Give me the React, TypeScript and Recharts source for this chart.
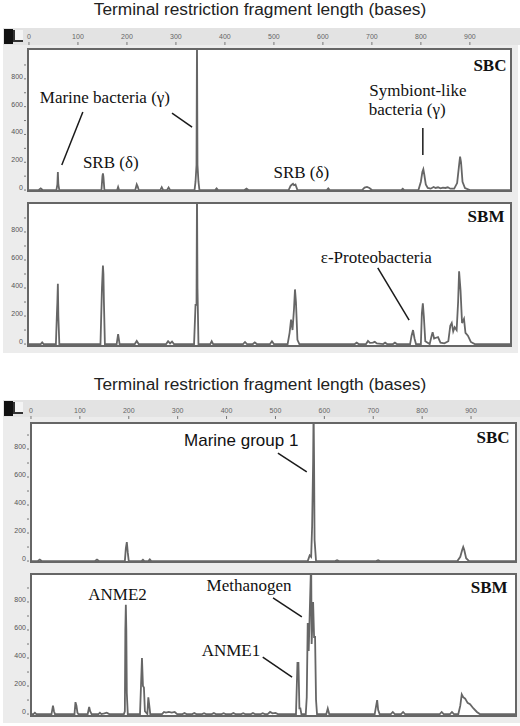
import React from 'react';
import { LineChart, Line, XAxis, YAxis, ReferenceLine, ReferenceDot } from 'recharts';

// ---------- tick labels ----------
const RULER_TICKS = [0, 100, 200, 300, 400, 500, 600, 700, 800, 900];
const Y_TICKS = [0, 100, 200, 300, 400, 500, 600, 700, 800, 900];
const Y_LABELS = [0, 200, 400, 600, 800];
const TITLE = 'Terminal restriction fragment length (bases)';

// ---------- traces: [fragment length (bases), intensity] ----------
const bacteriaSBC: [number, number][] = [
  [0, 0], [20, 0], [24, 12], [28, 0], [56, 0], [58, 40], [59, 130], [60, 40], [62, 0],
  [148, 0], [150, 100], [151, 120], [152, 95], [154, 0], [180, 0], [182, 22], [184, 0],
  [217, 0], [220, 40], [222, 25], [224, 0], [268, 0], [271, 20], [274, 0], [282, 0], [285, 18], [288, 0],
  [338, 0], [340, 60], [342, 180], [343, 1100], [344, 180], [346, 60], [348, 0],
  [380, 0], [383, 12], [386, 0], [440, 0], [444, 10], [448, 0],
  [530, 0], [534, 30], [537, 40], [539, 45], [541, 35], [544, 40], [548, 0],
  [608, 0], [611, 12], [614, 0], [680, 0], [685, 18], [690, 22], [695, 15], [700, 0],
  [760, 0], [763, 10], [766, 0],
  [795, 0], [800, 60], [803, 130], [805, 150], [807, 110], [810, 40], [814, 15],
  [820, 10], [826, 22], [830, 15], [835, 20], [840, 12], [845, 18], [850, 15], [855, 20], [860, 10],
  [868, 10], [874, 50], [878, 180], [880, 240], [882, 200], [885, 60], [890, 15], [900, 0], [986, 0],
];

const bacteriaSBM: [number, number][] = [
  [0, 0], [24, 0], [27, 12], [30, 0], [55, 0], [57, 210], [58, 300], [59, 430], [60, 200], [62, 0],
  [146, 0], [149, 400], [151, 560], [152, 500], [153, 300], [155, 0], [179, 0], [182, 70], [185, 0],
  [216, 0], [220, 22], [224, 0], [280, 0], [284, 20], [288, 5], [292, 18], [296, 0],
  [337, 0], [340, 280], [342, 280], [343, 1100], [344, 400], [346, 0], [370, 0], [373, 20], [376, 0],
  [437, 0], [441, 15], [445, 0], [457, 0], [461, 12], [465, 0], [492, 0], [496, 20], [500, 0],
  [528, 0], [532, 80], [535, 175], [538, 100], [541, 250], [543, 390], [545, 300], [548, 30], [552, 0],
  [665, 0], [669, 10], [673, 0], [688, 0], [692, 22], [696, 8], [702, 10], [706, 16], [710, 5],
  [723, 0], [727, 10], [731, 0], [743, 0], [747, 10], [751, 0],
  [778, 0], [781, 60], [784, 100], [787, 40], [790, 0], [800, 0], [802, 220], [804, 290], [806, 200], [809, 20],
  [818, 0], [822, 60], [824, 85], [827, 40], [831, 45], [835, 50], [840, 10], [848, 5],
  [856, 20], [860, 130], [863, 150], [866, 90], [869, 120], [873, 100], [876, 300], [878, 520], [881, 380],
  [884, 150], [888, 180], [891, 80], [896, 60], [902, 15], [910, 0], [986, 0],
];

const archaeaSBC: [number, number][] = [
  [0, 0], [14, 0], [18, 10], [22, 0], [131, 0], [135, 10], [139, 0],
  [192, 0], [194, 90], [196, 135], [197, 100], [198, 60], [200, 0],
  [226, 0], [229, 10], [232, 0], [240, 0], [243, 12], [246, 0],
  [566, 0], [570, 40], [573, 30], [575, 250], [577, 700], [578, 1100], [579, 700], [580, 150], [583, 0],
  [622, 0], [626, 6], [630, 0], [706, 0], [710, 6], [714, 0],
  [872, 0], [878, 30], [882, 80], [884, 100], [886, 80], [890, 20], [896, 0], [994, 0],
];

const archaeaSBM: [number, number][] = [
  [0, 0], [5, 0], [8, 10], [11, 0], [42, 0], [45, 60], [47, 20], [49, 0],
  [89, 0], [91, 85], [93, 60], [95, 10], [97, 0], [116, 0], [119, 50], [121, 20], [124, 0],
  [138, 0], [141, 10], [144, 0], [150, 5], [155, 10], [160, 0],
  [190, 0], [192, 20], [193, 600], [194, 780], [195, 600], [196, 150], [198, 0],
  [223, 0], [225, 200], [227, 400], [229, 200], [231, 190], [233, 20], [238, 0], [240, 120], [242, 60], [244, 0],
  [268, 0], [272, 15], [276, 10], [282, 15], [288, 10], [294, 15], [299, 0],
  [310, 0], [314, 8], [318, 0], [330, 0], [334, 8], [338, 0], [350, 0], [354, 6], [358, 0],
  [370, 0], [374, 8], [378, 0], [390, 0], [394, 6], [398, 0], [410, 0], [414, 8], [418, 0],
  [430, 0], [434, 6], [438, 0], [450, 0], [454, 8], [458, 0], [470, 0], [474, 6], [478, 0],
  [484, 0], [489, 15], [494, 5], [500, 8], [505, 0],
  [542, 0], [545, 365], [547, 365], [549, 40], [551, 40], [553, 0],
  [562, 0], [564, 120], [566, 650], [568, 450], [573, 1100], [574, 500], [577, 800], [579, 550], [581, 550], [583, 100], [585, 0],
  [604, 0], [607, 40], [610, 0], [703, 0], [706, 60], [708, 100], [710, 30], [713, 0],
  [736, 0], [740, 15], [744, 0], [757, 0], [761, 15], [765, 0], [836, 0], [840, 15], [844, 0], [857, 0], [861, 15], [865, 0],
  [874, 0], [878, 60], [881, 140], [884, 120], [888, 110], [893, 80], [898, 70], [905, 40], [912, 15], [918, 0], [994, 0],
];

// ---------- annotations (data coordinates) ----------
type Anno = { x: number; y: number; text: string; size: number; bold?: boolean; sans?: boolean };
type Seg = [number, number, number, number];

const annoBacSBC: Anno[] = [
  { x: 155, y: 669, text: 'Marine bacteria (γ)', size: 17 },
  { x: 167, y: 201, text: 'SRB (δ)', size: 17 },
  { x: 941, y: 899, text: 'SBC', size: 17, bold: true },
  { x: 794, y: 719, text: 'Symbiont-like', size: 17 },
  { x: 772, y: 576, text: 'bacteria (γ)', size: 17 },
  { x: 556, y: 129, text: 'SRB (δ)', size: 17 },
];
const segBacSBC: Seg[] = [
  [110, 561, 67, 180],
  [292, 554, 333, 453],
  [804, 446, 804, 252],
];
const annoBacSBM: Anno[] = [
  { x: 933, y: 907, text: 'SBM', size: 17, bold: true },
  { x: 709, y: 621, text: 'ε-Proteobacteria', size: 17 },
];
const segBacSBM: Seg[] = [[712, 543, 776, 171]];

const annoArcSBC: Anno[] = [
  { x: 430, y: 864, text: 'Marine group 1', size: 17, sans: true },
  { x: 945, y: 879, text: 'SBC', size: 17, bold: true },
];
const segArcSBC: Seg[] = [[505, 771, 564, 636]];

const annoArcSBM: Anno[] = [
  { x: 177, y: 850, text: 'ANME2', size: 17 },
  { x: 446, y: 921, text: 'Methanogen', size: 17 },
  { x: 409, y: 457, text: 'ANME1', size: 17 },
  { x: 937, y: 900, text: 'SBM', size: 17, bold: true },
];
const segArcSBM: Seg[] = [
  [495, 829, 554, 693],
  [474, 407, 534, 264],
];

// ---------- styling helpers ----------
const SERIF = "'Liberation Serif', 'Times New Roman', serif";
const SANS = "'Liberation Sans', Arial, sans-serif";

const RulerTick = (props: any) => {
  const { x, y, payload } = props;
  return (
    <g>
      <text x={x} y={y - 9} textAnchor="middle" fontSize={7} fill="#666" fontFamily={SANS}>
        {payload.value}
      </text>
      <line x1={x} x2={x} y1={y - 6} y2={y - 3} stroke="#777" strokeWidth={1} />
    </g>
  );
};

const YTick = (props: any) => {
  const { x, y, payload } = props;
  const show = Y_LABELS.includes(payload.value);
  return (
    <g>
      {show && (
        <text x={x - 4} y={y} textAnchor="end" fontSize={7} fill="#555" fontFamily={SANS}>
          {payload.value}
        </text>
      )}
      <line x1={x - 3} x2={x - 1} y1={y} y2={y} stroke="#777" strokeWidth={1} />
    </g>
  );
};

function textShape(a: Anno) {
  return (p: any) => (
    <text
      x={p.cx}
      y={p.cy}
      textAnchor="middle"
      dominantBaseline="central"
      fontSize={a.size}
      fontWeight={a.bold ? 'bold' : 'normal'}
      fontFamily={a.sans ? SANS : SERIF}
      fill="#111"
    >
      {a.text}
    </text>
  );
}

type PanelCfg = {
  id: string;
  top: number;
  height: number;
  yAxisWidth: number;
  rightMargin: number;
  ruler: boolean;
  rulerHeight: number;
  xDomain: [number, number];
  yDomain: [number, number];
  points: [number, number][];
  annos: Anno[];
  segs: Seg[];
};

function renderPanel(cfg: PanelCfg) {
  const data = cfg.points.map(([x, y]) => ({ x, y }));
  return (
    <div key={cfg.id} style={{ position: 'absolute', left: 0, top: cfg.top }}>
      <LineChart
        width={520}
        height={cfg.height}
        data={data}
        margin={{ top: 0, right: cfg.rightMargin, bottom: 0, left: 0 }}
      >
        <XAxis
          type="number"
          dataKey="x"
          orientation="top"
          domain={cfg.xDomain}
          allowDataOverflow
          ticks={RULER_TICKS}
          interval={0}
          hide={!cfg.ruler}
          height={cfg.rulerHeight}
          axisLine={false}
          tickLine={false}
          tickSize={0}
          tickMargin={0}
          tick={RulerTick}
        />
        <YAxis
          type="number"
          domain={cfg.yDomain}
          allowDataOverflow
          ticks={Y_TICKS}
          interval={0}
          width={cfg.yAxisWidth}
          axisLine={false}
          tickLine={false}
          tickSize={0}
          tickMargin={0}
          tick={YTick}
        />
        <Line
          type="linear"
          dataKey="y"
          stroke="#666"
          strokeWidth={1.8}
          dot={false}
          isAnimationActive={false}
        />
        {cfg.segs.map((s, i) => (
          <ReferenceLine
            key={'s' + i}
            segment={[{ x: s[0], y: s[1] }, { x: s[2], y: s[3] }]}
            stroke="#1a1a1a"
            strokeWidth={1.5}
          />
        ))}
        {cfg.annos.map((a, i) => (
          <ReferenceDot key={'a' + i} x={a.x} y={a.y} r={1} shape={textShape(a)} />
        ))}
      </LineChart>
    </div>
  );
}

const box = (left: number, top: number, right: number, bottom: number, key: string) => (
  <div
    key={key}
    style={{
      position: 'absolute',
      left,
      top,
      width: right - left,
      height: bottom - top,
      background: '#fff',
      border: '2px solid #666',
      boxSizing: 'border-box',
    }}
  />
);

const rulerBand = (top: number, key: string) => (
  <div key={key}>
    <div style={{ position: 'absolute', left: 3, top, width: 517, height: 17, background: '#e3e3e3' }} />
    <div style={{ position: 'absolute', left: 4, top: top + 1, width: 9, height: 15, background: '#111' }} />
    <div
      style={{
        position: 'absolute',
        left: 13,
        top: top + 2,
        width: 10,
        height: 12,
        background: '#f4f4f4',
        borderLeft: '2px solid #333',
        borderBottom: '2px solid #333',
        boxSizing: 'border-box',
      }}
    />
  </div>
);

const title = (top: number, key: string) => (
  <div
    key={key}
    style={{
      position: 'absolute',
      left: 0,
      top,
      width: 520,
      height: 20,
      lineHeight: '20px',
      textAlign: 'center',
      fontFamily: SANS,
      fontSize: 16,
      color: '#222',
      transform: 'scaleX(1.08)',
    }}
  >
    {TITLE}
  </div>
);

export default function App() {
  const topX: [number, number] = [-4, 986];
  const botX: [number, number] = [-2, 994];
  return (
    <div style={{ position: 'absolute', left: 0, top: 0, width: 520, height: 726, background: '#fff', overflow: 'hidden' }}>
      {title(0, 't1')}
      {rulerBand(28, 'r1')}
      <div style={{ position: 'absolute', left: 3, top: 45, width: 515, height: 308, background: '#ececec' }} />
      {box(27, 48, 512, 192, 'b1')}
      {box(27, 202, 512, 347, 'b2')}

      {title(375, 't2')}
      {rulerBand(400, 'r2')}
      <div style={{ position: 'absolute', left: 3, top: 417, width: 517, height: 306, background: '#ececec' }} />
      {box(30, 422, 517, 563, 'b3')}
      {box(30, 573, 517, 717, 'b4')}

      {renderPanel({
        id: 'p1', top: 28, height: 164, yAxisWidth: 27, rightMargin: 8, ruler: true, rulerHeight: 20,
        xDomain: topX, yDomain: [-14, 1022], points: bacteriaSBC, annos: annoBacSBC, segs: segBacSBC,
      })}
      {renderPanel({
        id: 'p2', top: 202, height: 145, yAxisWidth: 27, rightMargin: 8, ruler: false, rulerHeight: 0,
        xDomain: topX, yDomain: [-21, 1014], points: bacteriaSBM, annos: annoBacSBM, segs: segBacSBM,
      })}
      {renderPanel({
        id: 'p3', top: 400, height: 163, yAxisWidth: 30, rightMargin: 3, ruler: true, rulerHeight: 22,
        xDomain: botX, yDomain: [-14, 993], points: archaeaSBC, annos: annoArcSBC, segs: segArcSBC,
      })}
      {renderPanel({
        id: 'p4', top: 573, height: 144, yAxisWidth: 30, rightMargin: 3, ruler: false, rulerHeight: 0,
        xDomain: botX, yDomain: [-21, 1007], points: archaeaSBM, annos: annoArcSBM, segs: segArcSBM,
      })}
    </div>
  );
}
